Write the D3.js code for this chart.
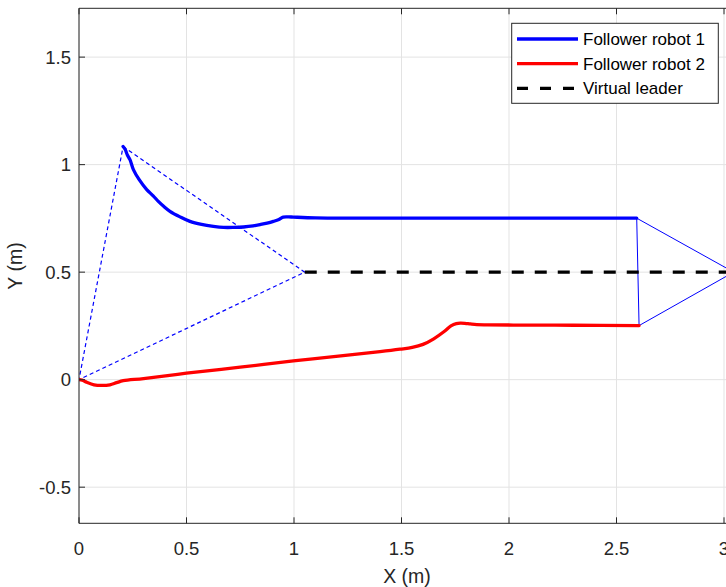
<!DOCTYPE html>
<html>
<head>
<meta charset="utf-8">
<script src="https://cdn.jsdelivr.net/npm/d3@7"></script>
<style>
  html, body { margin: 0; padding: 0; background: #fff; }
  svg { display: block; font-family: "Liberation Sans", Arial, sans-serif; }
</style>
</head>
<body>
<svg id="chart" width="726" height="587"></svg>
<script>
// Follower robot 1 trajectory (m)
const blueX = [0.205, 0.215, 0.225, 0.237, 0.253, 0.28, 0.315, 0.345, 0.369, 0.395, 0.423, 0.47, 0.516, 0.57, 0.625, 0.672, 0.72, 0.765, 0.81, 0.842, 0.875, 0.904, 0.93, 0.95, 0.975, 0.997, 1.1, 1.3, 1.6, 2.0, 2.3, 2.594];
const blueY = [1.084, 1.07, 1.045, 1.023, 0.977, 0.93, 0.884, 0.855, 0.829, 0.805, 0.783, 0.757, 0.736, 0.722, 0.713, 0.708, 0.708, 0.710, 0.715, 0.721, 0.728, 0.736, 0.745, 0.756, 0.757, 0.756, 0.752, 0.751, 0.751, 0.751, 0.751, 0.751];

// Follower robot 2 trajectory (m)
const redX = [0, 0.015, 0.036, 0.07, 0.105, 0.144, 0.175, 0.206, 0.3, 0.5, 0.75, 0.997, 1.25, 1.4, 1.493, 1.55, 1.6, 1.65, 1.7, 1.73, 1.755, 1.775, 1.795, 1.82, 1.85, 1.9, 2.02, 2.3, 2.605];
const redY = [0, -0.002, -0.012, -0.024, -0.027, -0.024, -0.014, -0.005, 0.005, 0.03, 0.058, 0.087, 0.114, 0.13, 0.1415, 0.150, 0.164, 0.19, 0.225, 0.25, 0.261, 0.263, 0.262, 0.259, 0.256, 0.255, 0.254, 0.253, 0.2515];

// Virtual leader trajectory (m)
const leaderX = [1.05, 3.045];
const leaderY = [0.5, 0.5];

// Axis ticks
const xTicks = [0, 0.5, 1, 1.5, 2, 2.5, 3];
const yTicks = [-0.5, 0, 0.5, 1, 1.5];

const legendLabels = ["Follower robot 1", "Follower robot 2", "Virtual leader"];

const svg = d3.select("#chart");
const plotLeft = 79, plotRight = 760, plotTop = 8.3, plotBottom = 523.3;

const x = d3.scaleLinear().domain([0, 3]).range([plotLeft, 724]);
const y = d3.scaleLinear().domain([-0.668, 1.727]).range([plotBottom, plotTop]);

const axisColor = "#262626";

// Grid
const grid = svg.append("g");
grid.selectAll("line.gx").data(xTicks).join("line")
  .attr("x1", d => x(d)).attr("x2", d => x(d))
  .attr("y1", plotTop).attr("y2", plotBottom)
  .attr("stroke", "#e3e3e3").attr("stroke-width", 1);
grid.selectAll("line.gy").data(yTicks).join("line")
  .attr("x1", plotLeft).attr("x2", plotRight)
  .attr("y1", d => y(d)).attr("y2", d => y(d))
  .attr("stroke", "#e3e3e3").attr("stroke-width", 1);

// Clip to the axes area
svg.append("clipPath").attr("id", "plotClip")
  .append("rect").attr("x", plotLeft).attr("y", plotTop)
  .attr("width", plotRight - plotLeft).attr("height", plotBottom - plotTop);

const plot = svg.append("g").attr("clip-path", "url(#plotClip)");

const zipPts = (xs, ys) => xs.map((v, i) => [v, ys[i]]);
const blue = zipPts(blueX, blueY);
const red = zipPts(redX, redY);
const leader = zipPts(leaderX, leaderY);

const line = d3.line().x(d => x(d[0])).y(d => y(d[1])).curve(d3.curveCatmullRom.alpha(0.5));
const straight = d3.line().x(d => x(d[0])).y(d => y(d[1]));

// Initial formation (dashed triangle)
const startTri = [blue[0], leader[0], red[0], blue[0]];
plot.append("path").attr("d", straight(startTri))
  .attr("fill", "none").attr("stroke", "#0000ff").attr("stroke-width", 1.2)
  .attr("stroke-dasharray", "4,3");

// Final formation (solid triangle)
const endTri = [blue[blue.length - 1], leader[leader.length - 1], red[red.length - 1], blue[blue.length - 1]];
plot.append("path").attr("d", straight(endTri))
  .attr("fill", "none").attr("stroke", "#0000ff").attr("stroke-width", 1);

// Trajectories
plot.append("path").attr("d", line(blue))
  .attr("fill", "none").attr("stroke", "#0000ff").attr("stroke-width", 3.3)
  .attr("stroke-linejoin", "round").attr("stroke-linecap", "round");
plot.append("path").attr("d", line(red))
  .attr("fill", "none").attr("stroke", "#ff0000").attr("stroke-width", 3.3)
  .attr("stroke-linejoin", "round").attr("stroke-linecap", "round");
plot.append("path").attr("d", straight(leader))
  .attr("fill", "none").attr("stroke", "#000").attr("stroke-width", 3.3)
  .attr("stroke-dasharray", "12,11");

// Axes frame (left, bottom, top)
const frame = svg.append("g").attr("stroke", axisColor).attr("stroke-width", 1);
frame.append("line").attr("x1", plotLeft).attr("x2", plotLeft).attr("y1", plotTop).attr("y2", plotBottom);
frame.append("line").attr("x1", plotLeft).attr("x2", plotRight).attr("y1", plotBottom).attr("y2", plotBottom);
frame.append("line").attr("x1", plotLeft).attr("x2", plotRight).attr("y1", plotTop).attr("y2", plotTop);

// Inward ticks
const tickLen = 6;
frame.selectAll("line.tb").data(xTicks).join("line")
  .attr("x1", d => x(d)).attr("x2", d => x(d))
  .attr("y1", plotBottom).attr("y2", plotBottom - tickLen);
frame.selectAll("line.tt").data(xTicks).join("line")
  .attr("x1", d => x(d)).attr("x2", d => x(d))
  .attr("y1", plotTop).attr("y2", plotTop + tickLen);
frame.selectAll("line.tl").data(yTicks).join("line")
  .attr("x1", plotLeft).attr("x2", plotLeft + tickLen)
  .attr("y1", d => y(d)).attr("y2", d => y(d));

// Tick labels
const fmt = d => String(d);
svg.append("g").selectAll("text").data(xTicks).join("text")
  .attr("x", d => x(d)).attr("y", 555)
  .attr("text-anchor", "middle").attr("font-size", 18.5).attr("fill", axisColor)
  .text(fmt);
svg.append("g").selectAll("text").data(yTicks).join("text")
  .attr("x", 71).attr("y", d => y(d)).attr("dy", "0.35em")
  .attr("text-anchor", "end").attr("font-size", 18.5).attr("fill", axisColor)
  .text(fmt);

// Axis labels
svg.append("text").attr("x", 407).attr("y", 583)
  .attr("text-anchor", "middle").attr("font-size", 19.5).attr("fill", axisColor)
  .text("X (m)");
svg.append("text")
  .attr("transform", "translate(22,266) rotate(-90)")
  .attr("text-anchor", "middle").attr("font-size", 19.5).attr("fill", axisColor)
  .text("Y (m)");

// Legend
const lg = svg.append("g");
lg.append("rect").attr("x", 511.7).attr("y", 23.3).attr("width", 206.6).attr("height", 80)
  .attr("fill", "#fff").attr("stroke", axisColor).attr("stroke-width", 1);
const legendStyles = [
  { color: "#0000ff", dash: null },
  { color: "#ff0000", dash: null },
  { color: "#000", dash: "11,12" }
];
const rowY = [39, 63.7, 88.3];
legendLabels.forEach((label, i) => {
  const s = legendStyles[i];
  const l = lg.append("line").attr("x1", 517).attr("x2", 578)
    .attr("y1", rowY[i]).attr("y2", rowY[i])
    .attr("stroke", s.color).attr("stroke-width", 3.3);
  if (s.dash) l.attr("stroke-dasharray", s.dash);
  lg.append("text").attr("x", 583).attr("y", rowY[i]).attr("dy", "0.36em")
    .attr("font-size", 17).attr("fill", "#000").text(label);
});
</script>
</body>
</html>
